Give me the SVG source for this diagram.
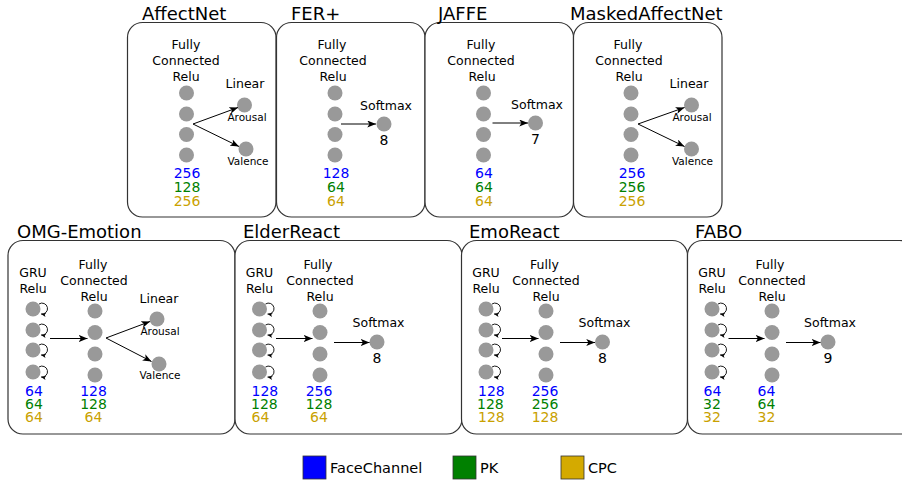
<svg xmlns="http://www.w3.org/2000/svg" width="902" height="481" viewBox="0 0 902 481">
<defs>
<style>
text{font-family:"DejaVu Sans","Liberation Sans",sans-serif;fill:#000}
.title{font-size:18px}
.lbl{font-size:12.5px;text-anchor:middle}
.sm{font-size:10.5px;text-anchor:middle}
.num{font-size:14px;text-anchor:middle}
.gnum{font-size:14px}
.out{font-size:14px;text-anchor:middle}
.b{fill:#0000ff}.g{fill:#008000}.y{fill:#c9a100}
.box{fill:#fff;stroke:#333;stroke-width:1.2}
.n{fill:#999}
.e{stroke:#000;stroke-width:1;fill:none}
.lp{stroke:#000;stroke-width:0.9;fill:none}
.leg{stroke:#333;stroke-width:0.8}
.lt{font-size:14.5px}
</style>
<marker id="ah" viewBox="0 0 10 8" refX="10" refY="4" markerWidth="9" markerHeight="7" markerUnits="userSpaceOnUse" orient="auto">
<path d="M0,0 L10,4 L0,8 L2.5,4 z" fill="#000"/>
</marker>
<marker id="lh" viewBox="0 0 10 8" refX="10" refY="4" markerWidth="5" markerHeight="4" markerUnits="userSpaceOnUse" orient="auto">
<path d="M0,0 L10,4 L0,8 L2.5,4 z" fill="#000"/>
</marker>
</defs>
<rect width="902" height="481" fill="#fff"/>

<!-- Top row -->
<g id="affectnet">
<rect class="box" x="127.5" y="22.5" width="148.5" height="194.5" rx="15"/>
<text class="title" x="142" y="20">AffectNet</text>
<text class="lbl" x="186" y="49">Fully</text>
<text class="lbl" x="186" y="65">Connected</text>
<text class="lbl" x="186" y="81">Relu</text>
<circle class="n" cx="186.5" cy="93" r="7.5"/><circle class="n" cx="186.5" cy="114" r="7.5"/><circle class="n" cx="186.5" cy="134.5" r="7.5"/><circle class="n" cx="186.5" cy="155" r="7.5"/>
<text class="lbl" x="245" y="88">Linear</text>
<circle class="n" cx="244.5" cy="105" r="7.5"/>
<text class="sm" x="247" y="121">Arousal</text>
<circle class="n" cx="246" cy="149" r="7.5"/>
<text class="sm" x="248" y="165">Valence</text>
<text class="num b" x="187" y="178">256</text>
<text class="num g" x="187" y="192">128</text>
<text class="num y" x="187" y="205.5">256</text>
</g>

<g id="ferplus">
<rect class="box" x="276.5" y="22.5" width="148.5" height="194.5" rx="15"/>
<text class="title" x="291" y="20">FER+</text>
<text class="lbl" x="332" y="49">Fully</text>
<text class="lbl" x="333" y="65">Connected</text>
<text class="lbl" x="333" y="81">Relu</text>
<circle class="n" cx="335" cy="93" r="7.5"/><circle class="n" cx="335" cy="114" r="7.5"/><circle class="n" cx="335" cy="134.5" r="7.5"/><circle class="n" cx="335" cy="155" r="7.5"/>
<text class="lbl" x="386" y="110">Softmax</text>
<circle class="n" cx="384" cy="124" r="7.5"/>
<text class="out" x="384" y="145">8</text>
<text class="num b" x="336" y="178">128</text>
<text class="num g" x="336" y="192">64</text>
<text class="num y" x="336" y="205.5">64</text>
</g>

<g id="jaffe">
<rect class="box" x="425" y="22.5" width="148.5" height="194.5" rx="15"/>
<text class="title" x="438" y="20">JAFFE</text>
<text class="lbl" x="481" y="49">Fully</text>
<text class="lbl" x="481" y="65">Connected</text>
<text class="lbl" x="482" y="81">Relu</text>
<circle class="n" cx="483.5" cy="93" r="7.5"/><circle class="n" cx="483.5" cy="114" r="7.5"/><circle class="n" cx="483.5" cy="134.5" r="7.5"/><circle class="n" cx="483.5" cy="155" r="7.5"/>
<text class="lbl" x="537" y="108.5">Softmax</text>
<circle class="n" cx="535.5" cy="123" r="7.5"/>
<text class="out" x="535.5" y="143.5">7</text>
<text class="num b" x="484" y="178">64</text>
<text class="num g" x="484" y="192">64</text>
<text class="num y" x="484" y="205.5">64</text>
</g>

<g id="maskedaffectnet">
<rect class="box" x="573.5" y="22.5" width="148.5" height="194.5" rx="15"/>
<text class="title" x="570" y="20">MaskedAffectNet</text>
<text class="lbl" x="628" y="49">Fully</text>
<text class="lbl" x="629" y="65">Connected</text>
<text class="lbl" x="629" y="81">Relu</text>
<circle class="n" cx="631" cy="93" r="7.5"/><circle class="n" cx="631" cy="114" r="7.5"/><circle class="n" cx="631" cy="134.5" r="7.5"/><circle class="n" cx="631" cy="155" r="7.5"/>
<text class="lbl" x="689" y="88">Linear</text>
<circle class="n" cx="691.5" cy="105" r="7.5"/>
<text class="sm" x="692" y="121">Arousal</text>
<circle class="n" cx="691.5" cy="149" r="7.5"/>
<text class="sm" x="692.5" y="165">Valence</text>
<text class="num b" x="632" y="178">256</text>
<text class="num g" x="632" y="192">256</text>
<text class="num y" x="632" y="205.5">256</text>
</g>

<!-- Bottom row -->
<g id="omg-emotion">
<rect class="box" x="8" y="240.5" width="227" height="193.5" rx="15"/>
<text class="title" x="17" y="238">OMG-Emotion</text>
<text class="lbl" x="33" y="277">GRU</text>
<text class="lbl" x="33" y="293">Relu</text>
<text class="lbl" x="93" y="269">Fully</text>
<text class="lbl" x="94" y="285">Connected</text>
<text class="lbl" x="94" y="301">Relu</text>
<circle class="n" cx="33" cy="309" r="7.5"/><circle class="n" cx="33" cy="330" r="7.5"/><circle class="n" cx="33" cy="350" r="7.5"/><circle class="n" cx="33" cy="372" r="7.5"/>
<circle class="n" cx="95" cy="311" r="7.5"/><circle class="n" cx="95" cy="332.5" r="7.5"/><circle class="n" cx="95" cy="354" r="7.5"/><circle class="n" cx="95" cy="375" r="7.5"/>
<text class="lbl" x="159" y="303">Linear</text>
<circle class="n" cx="157" cy="319" r="7.5"/>
<text class="sm" x="160" y="335">Arousal</text>
<circle class="n" cx="159" cy="364" r="7.5"/>
<text class="sm" x="160" y="379">Valence</text>
<text class="gnum b" x="25" y="396">64</text>
<text class="gnum g" x="25" y="409">64</text>
<text class="gnum y" x="25" y="421.5">64</text>
<text class="num b" x="93.5" y="396">128</text>
<text class="num g" x="93.5" y="409">128</text>
<text class="num y" x="93.5" y="421.5">64</text>
</g>

<g id="elderreact">
<rect class="box" x="235" y="240.5" width="227" height="193.5" rx="15"/>
<text class="title" x="243" y="238">ElderReact</text>
<text class="lbl" x="259.5" y="277">GRU</text>
<text class="lbl" x="259.5" y="293">Relu</text>
<text class="lbl" x="318" y="269">Fully</text>
<text class="lbl" x="320" y="285">Connected</text>
<text class="lbl" x="320" y="301">Relu</text>
<circle class="n" cx="259.5" cy="309" r="7.5"/><circle class="n" cx="259.5" cy="330" r="7.5"/><circle class="n" cx="259.5" cy="350" r="7.5"/><circle class="n" cx="259.5" cy="372" r="7.5"/>
<circle class="n" cx="320" cy="311" r="7.5"/><circle class="n" cx="320" cy="332.5" r="7.5"/><circle class="n" cx="320" cy="354" r="7.5"/><circle class="n" cx="320" cy="375" r="7.5"/>
<text class="lbl" x="378.5" y="327">Softmax</text>
<circle class="n" cx="377" cy="342" r="7.5"/>
<text class="out" x="377" y="363">8</text>
<text class="gnum b" x="251.5" y="396">128</text>
<text class="gnum g" x="251" y="409">128</text>
<text class="gnum y" x="251.5" y="421.5">64</text>
<text class="num b" x="319" y="396">256</text>
<text class="num g" x="319" y="409">128</text>
<text class="num y" x="319" y="421.5">64</text>
</g>

<g id="emoreact">
<rect class="box" x="461.5" y="240.5" width="226" height="193.5" rx="15"/>
<text class="title" x="469" y="238">EmoReact</text>
<text class="lbl" x="486" y="277">GRU</text>
<text class="lbl" x="486" y="293">Relu</text>
<text class="lbl" x="544.5" y="269">Fully</text>
<text class="lbl" x="546" y="285">Connected</text>
<text class="lbl" x="546" y="301">Relu</text>
<circle class="n" cx="486" cy="309" r="7.5"/><circle class="n" cx="486" cy="330" r="7.5"/><circle class="n" cx="486" cy="350" r="7.5"/><circle class="n" cx="486" cy="372" r="7.5"/>
<circle class="n" cx="546" cy="311" r="7.5"/><circle class="n" cx="546" cy="332.5" r="7.5"/><circle class="n" cx="546" cy="354" r="7.5"/><circle class="n" cx="546" cy="375" r="7.5"/>
<text class="lbl" x="604.5" y="327">Softmax</text>
<circle class="n" cx="602.5" cy="342" r="7.5"/>
<text class="out" x="602.5" y="363">8</text>
<text class="gnum b" x="478" y="396">128</text>
<text class="gnum g" x="477" y="409">128</text>
<text class="gnum y" x="478" y="421.5">128</text>
<text class="num b" x="545" y="396">256</text>
<text class="num g" x="545" y="409">256</text>
<text class="num y" x="545" y="421.5">128</text>
</g>

<g id="fabo">
<rect class="box" x="687.5" y="240.5" width="227" height="193.5" rx="15"/>
<text class="title" x="695" y="238">FABO</text>
<text class="lbl" x="712" y="277">GRU</text>
<text class="lbl" x="712" y="293">Relu</text>
<text class="lbl" x="770" y="269">Fully</text>
<text class="lbl" x="772" y="285">Connected</text>
<text class="lbl" x="772" y="301">Relu</text>
<circle class="n" cx="712" cy="309" r="7.5"/><circle class="n" cx="712" cy="330" r="7.5"/><circle class="n" cx="712" cy="350" r="7.5"/><circle class="n" cx="712" cy="372" r="7.5"/>
<circle class="n" cx="772" cy="311" r="7.5"/><circle class="n" cx="772" cy="332.5" r="7.5"/><circle class="n" cx="772" cy="354" r="7.5"/><circle class="n" cx="772" cy="375" r="7.5"/>
<text class="lbl" x="830" y="327">Softmax</text>
<circle class="n" cx="828" cy="342" r="7.5"/>
<text class="out" x="828" y="363">9</text>
<text class="gnum b" x="703.5" y="396">64</text>
<text class="gnum g" x="703" y="409">32</text>
<text class="gnum y" x="703" y="421.5">32</text>
<text class="num b" x="766.5" y="396">64</text>
<text class="num g" x="766.5" y="409">64</text>
<text class="num y" x="766.5" y="421.5">32</text>
</g>

<g id="connectors">
<!-- top -->
<path class="e" d="M193,124 L238,107.5" marker-end="url(#ah)"/>
<path class="e" d="M193,124 L239,146.5" marker-end="url(#ah)"/>
<path class="e" d="M341,124 L376,124" marker-end="url(#ah)"/>
<path class="e" d="M492.5,123 L528,123" marker-end="url(#ah)"/>
<path class="e" d="M638,124 L684.5,107.5" marker-end="url(#ah)"/>
<path class="e" d="M638,124 L684.5,146.5" marker-end="url(#ah)"/>
<!-- OMG -->
<path class="e" d="M50,338.5 L87.5,338.5" marker-end="url(#ah)"/>
<path class="e" d="M106,338 L150,321.5" marker-end="url(#ah)"/>
<path class="e" d="M106,338 L151.5,361.5" marker-end="url(#ah)"/>
<!-- ElderReact -->
<path class="e" d="M276,338.5 L312.5,338.5" marker-end="url(#ah)"/>
<path class="e" d="M334,342.5 L369.5,342.5" marker-end="url(#ah)"/>
<!-- EmoReact -->
<path class="e" d="M502,338.5 L538.5,338.5" marker-end="url(#ah)"/>
<path class="e" d="M560,342.5 L595,342.5" marker-end="url(#ah)"/>
<!-- FABO -->
<path class="e" d="M728.5,338.5 L764.5,338.5" marker-end="url(#ah)"/>
<path class="e" d="M786,342.5 L820.5,342.5" marker-end="url(#ah)"/>
<!-- recurrent loops -->
<g id="loops">
<path class="lp" d="M39,304 A5.5,5.5 0 1 1 41,314" marker-end="url(#lh)"/>
<path class="lp" d="M39,325 A5.5,5.5 0 1 1 41,335" marker-end="url(#lh)"/>
<path class="lp" d="M39,345 A5.5,5.5 0 1 1 41,355" marker-end="url(#lh)"/>
<path class="lp" d="M39,367 A5.5,5.5 0 1 1 41,377" marker-end="url(#lh)"/>
<path class="lp" d="M265.5,304 A5.5,5.5 0 1 1 267.5,314" marker-end="url(#lh)"/>
<path class="lp" d="M265.5,325 A5.5,5.5 0 1 1 267.5,335" marker-end="url(#lh)"/>
<path class="lp" d="M265.5,345 A5.5,5.5 0 1 1 267.5,355" marker-end="url(#lh)"/>
<path class="lp" d="M265.5,367 A5.5,5.5 0 1 1 267.5,377" marker-end="url(#lh)"/>
<path class="lp" d="M492,304 A5.5,5.5 0 1 1 494,314" marker-end="url(#lh)"/>
<path class="lp" d="M492,325 A5.5,5.5 0 1 1 494,335" marker-end="url(#lh)"/>
<path class="lp" d="M492,345 A5.5,5.5 0 1 1 494,355" marker-end="url(#lh)"/>
<path class="lp" d="M492,367 A5.5,5.5 0 1 1 494,377" marker-end="url(#lh)"/>
<path class="lp" d="M718,304 A5.5,5.5 0 1 1 720,314" marker-end="url(#lh)"/>
<path class="lp" d="M718,325 A5.5,5.5 0 1 1 720,335" marker-end="url(#lh)"/>
<path class="lp" d="M718,345 A5.5,5.5 0 1 1 720,355" marker-end="url(#lh)"/>
<path class="lp" d="M718,367 A5.5,5.5 0 1 1 720,377" marker-end="url(#lh)"/>
</g>
</g>

<g id="legend">
<rect class="leg" x="303" y="456" width="23" height="23" fill="#0000ff"/>
<text class="lt" x="330" y="473">FaceChannel</text>
<rect class="leg" x="453" y="456" width="23" height="23" fill="#008000"/>
<text class="lt" x="480" y="473">PK</text>
<rect class="leg" x="561" y="456" width="23" height="23" fill="#d4aa00"/>
<text class="lt" x="588" y="473">CPC</text>
</g>
</svg>
